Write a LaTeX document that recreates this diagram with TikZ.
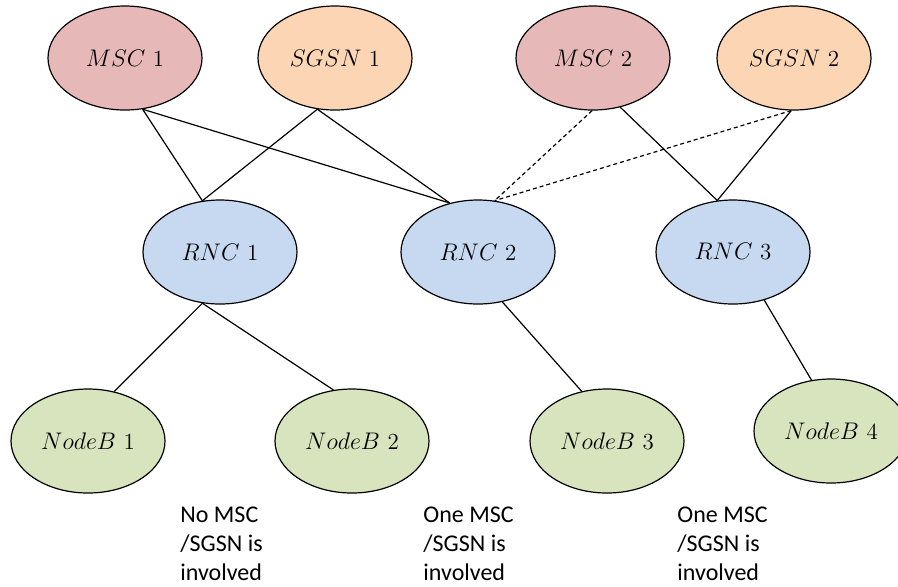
\documentclass[tikz,border=0pt]{standalone}
\usepackage{fontspec}
\usepackage{tikz}
\usepackage{xcolor}
\usetikzlibrary{positioning}
\usetikzlibrary{shapes,arrows}
\newfontfamily\notefont{Carlito}

\definecolor{mscred}{HTML}{E6B9B8}
\definecolor{sgsnorange}{HTML}{FCD5B5}
\definecolor{rncblue}{HTML}{C6D9F1}
\definecolor{nbgreen}{HTML}{D7E4BD}

\tikzset{
  elem/.style={ellipse,draw=black,line width=0.6pt,inner sep=0pt,
    minimum width=77pt,minimum height=52pt,font=\fontsize{11.5}{14}\selectfont},
  msc/.style={elem,fill=mscred},
  sgsn/.style={elem,fill=sgsnorange},
  rnc/.style={elem,fill=rncblue},
  nodeb/.style={elem,fill=nbgreen},
  link/.style={line width=0.6pt},
  backup/.style={link,dash pattern=on 2pt off 1.5pt},
  note/.style={anchor=north west,inner sep=0pt,align=left,
    font=\notefont\fontsize{12}{14.5}\selectfont}
}

\begin{document}
\begin{tikzpicture}[x=0.5pt,y=-0.5pt]
  \useasboundingbox (0,0) rectangle (898,586);
  \node(msc1) [msc] at (125,58) {$MSC$ 1};
  \node(sgsn1) [sgsn] at (335,58) {$SGSN$ 1};
  \node(msc2) [msc] at (593,58) {$MSC$ 2};
  \node(sgsn2) [sgsn] at (794,58) {$SGSN$ 2};
  \node(rnc1) [rnc] at (220,252) {$RNC$ 1};
  \node(rnc2) [rnc] at (478,252) {$RNC$ 2};
  \node(rnc3) [rnc] at (733,252) {$RNC$ 3};
  \node(nb1) [nodeb] at (88,441) {$NodeB$ 1};
  \node(nb2) [nodeb] at (352,441) {$NodeB$ 2};
  \node(nb3) [nodeb] at (607,441) {$NodeB$ 3};
  \node(nb4) [nodeb] at (831,431) {$NodeB$ 4};
  \node(note1) [note] at (180,507) {No MSC\\/SGSN is\\involved};
  \node(note2) [note] at (423,507) {One MSC\\/SGSN is\\involved};
  \node(note3) [note] at (677,507) {One MSC\\/SGSN is\\involved};
  \draw[link] (msc1.-71) -- (rnc1.109);
  \draw[link] (msc1.-71) -- (rnc2.120);
  \draw[link] (sgsn1.-109) -- (rnc1.109);
  \draw[link] (sgsn1.-109) -- (rnc2.120);
  \draw[backup] (msc2.-91) -- (rnc2.72);
  \draw[backup] (sgsn2.-93) -- (rnc2.72);
  \draw[link] (msc2.-61) -- (rnc3.107);
  \draw[link] (sgsn2.-93) -- (rnc3.107);
  \draw[link] (rnc1.-109) -- (nb1.62);
  \draw[link] (rnc1.-109) -- (nb2.110);
  \draw[link] (rnc2.-64) -- (nb3.117);
  \draw[link] (rnc3.-57) -- (nb4.111);
\end{tikzpicture}
\end{document}
